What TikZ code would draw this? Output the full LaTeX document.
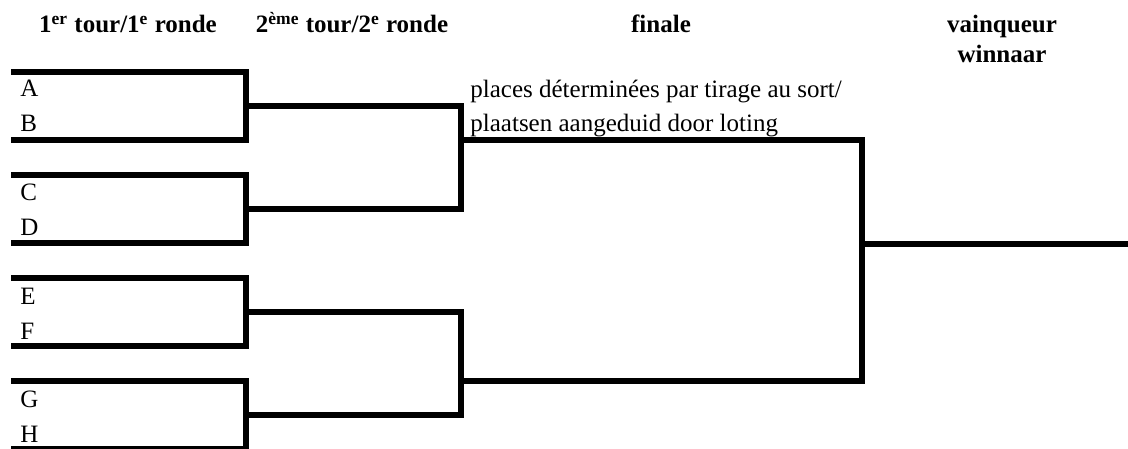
\documentclass[tikz,border=0pt]{standalone}
\usepackage{fontspec}
\setmainfont{Liberation Serif}
\usepackage{tikz}

\begin{document}
\begin{tikzpicture}[
    x=0.5pt, y=-0.5pt,
    font=\fontsize{12.5}{15}\selectfont,
    head/.style={font=\fontsize{12.5}{15}\selectfont\bfseries, inner sep=0pt, anchor=base, align=center},
    player/.style={inner sep=0pt, anchor=base west},
    note/.style={inner sep=0pt, anchor=base west, align=left, font=\fontsize{12.5}{17}\selectfont},
    bline/.style={line width=2.75pt, line join=miter}
]
\useasboundingbox (0,0) rectangle (1128,449);

% column headings (base of a two-line node is its last line)
\node[head] (h1) at (128,33) {1\textsuperscript{er} tour/1\textsuperscript{e} ronde};
\node[head] (h2) at (352,33) {2\textsuperscript{ème} tour/2\textsuperscript{e} ronde};
\node[head] (h3) at (661,33) {finale};
\node[head] (h4) at (1002,63) {vainqueur\\winnaar};

% players
\foreach \p/\y in {A/97, B/132, C/200, D/235, E/304, F/339, G/407, H/442}
    \node[player] (\p) at (20,\y) {\p};

\node[note] (draw) at (470,131) {places déterminées par tirage au sort/\\plaatsen aangeduid door loting};

% first round
\foreach \m/\t in {ab/72, cd/175, ef/278, gh/381} {
    \coordinate (\m-top) at (11,\t);
    \coordinate (\m-bot) at (11,\t+68);
    \coordinate (\m-out) at (246,\t+34);
    \draw[bline] (\m-top) -| (\m-out) |- (\m-bot);
}

% second round and final
\coordinate (semi1) at (461,140);
\coordinate (semi2) at (461,381);
\coordinate (final) at (862,244);
\coordinate (winner) at (1128,244);
\draw[bline] (ab-out) -| (semi1) |- (cd-out);
\draw[bline] (ef-out) -| (semi2) |- (gh-out);
\draw[bline] (semi1) -| (final) |- (semi2);
\draw[bline] (final) -- (winner);
\end{tikzpicture}
\end{document}
